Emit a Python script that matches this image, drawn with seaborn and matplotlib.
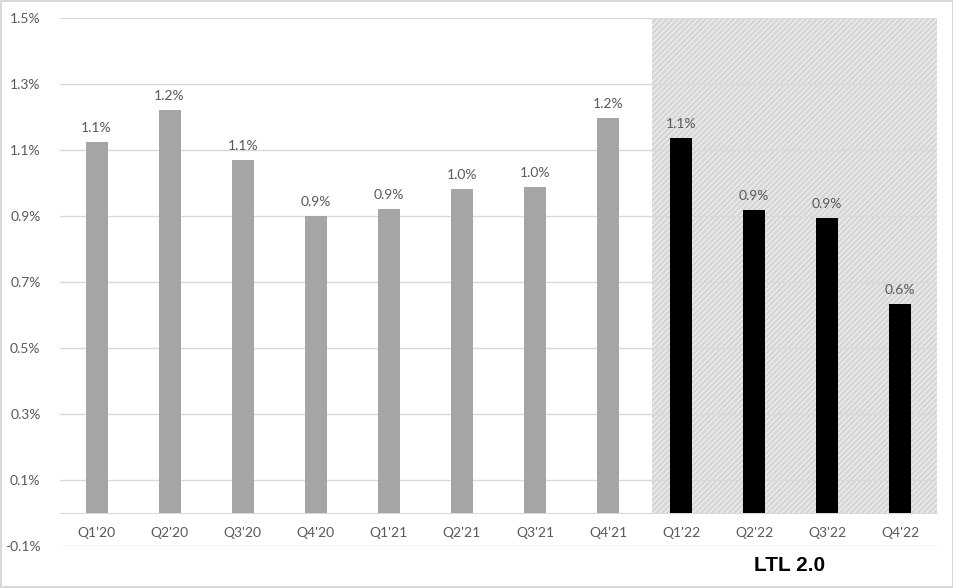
import numpy as np
import pandas as pd
import matplotlib
matplotlib.use("Agg")
import matplotlib.pyplot as plt
import seaborn as sns
from matplotlib.ticker import FixedLocator, FuncFormatter

# Data (values in %)
quarters = ["Q1'20", "Q2'20", "Q3'20", "Q4'20", "Q1'21", "Q2'21",
            "Q3'21", "Q4'21", "Q1'22", "Q2'22", "Q3'22", "Q4'22"]
values = [1.124, 1.221, 1.07, 0.90, 0.921, 0.982,
          0.988, 1.197, 1.136, 0.918, 0.894, 0.633]
period = ["LTL 1.0"] * 8 + ["LTL 2.0"] * 4
yticks = [-0.1, 0.1, 0.3, 0.5, 0.7, 0.9, 1.1, 1.3, 1.5]

df = pd.DataFrame({"Quarter": quarters, "Rate": values, "Period": period})

sns.set_style("white")
plt.rcParams['font.family'] = ['Lato', 'DejaVu Sans']
plt.rcParams['hatch.linewidth'] = 0.9

grey_txt = "#595959"
grid_c = "#d9d9d9"

fig = plt.figure(figsize=(9.54, 5.88), dpi=100)
fig.patch.set_edgecolor(grid_c)
fig.patch.set_linewidth(1.5)
ax = fig.add_axes([0.0629, 0.0714, 0.9191, 0.898])

# shaded LTL 2.0 region
ax.axvspan(7.6, 11.5, ymin=(0 - yticks[0]) / (yticks[-1] - yticks[0]), ymax=1,
           facecolor="#d6d6d6", edgecolor="#f0f0f0", hatch="//////", linewidth=0, zorder=0)

for t in yticks:
    ax.axhline(t, color=grid_c, linewidth=1, zorder=1)

sns.barplot(data=df, x="Quarter", y="Rate", hue="Period",
            palette={"LTL 1.0": "#a5a5a5", "LTL 2.0": "#000000"},
            dodge=False, width=0.3, legend=False, ax=ax, zorder=3,
            linewidth=0)

for c in ax.containers:
    ax.bar_label(c, labels=[f"{v:.1f}%" for v in c.datavalues],
                 padding=6, fontsize=10, color=grey_txt)

ax.set_xlim(-0.5, 11.5)
ax.set_ylim(yticks[0], yticks[-1])
ax.yaxis.set_major_locator(FixedLocator(yticks))
ax.yaxis.set_major_formatter(FuncFormatter(lambda v, p: f"{v:.1f}%"))
ax.tick_params(axis="y", length=0, pad=14, labelsize=10, labelcolor=grey_txt)
ax.tick_params(axis="x", length=0, pad=10, labelsize=10, labelcolor=grey_txt)

for s in ["top", "right", "left"]:
    ax.spines[s].set_visible(False)
ax.spines["bottom"].set_position(("data", 0))
ax.spines["bottom"].set_color(grid_c)
ax.spines["bottom"].set_zorder(1)
ax.set_xlabel("")
ax.set_ylabel("")

fig.text(0.828, 0.039, "LTL 2.0", ha="center", va="center",
         fontsize=15, fontweight="bold", family="Liberation Sans", color="#000000")

fig.savefig("out.png", dpi=100)
